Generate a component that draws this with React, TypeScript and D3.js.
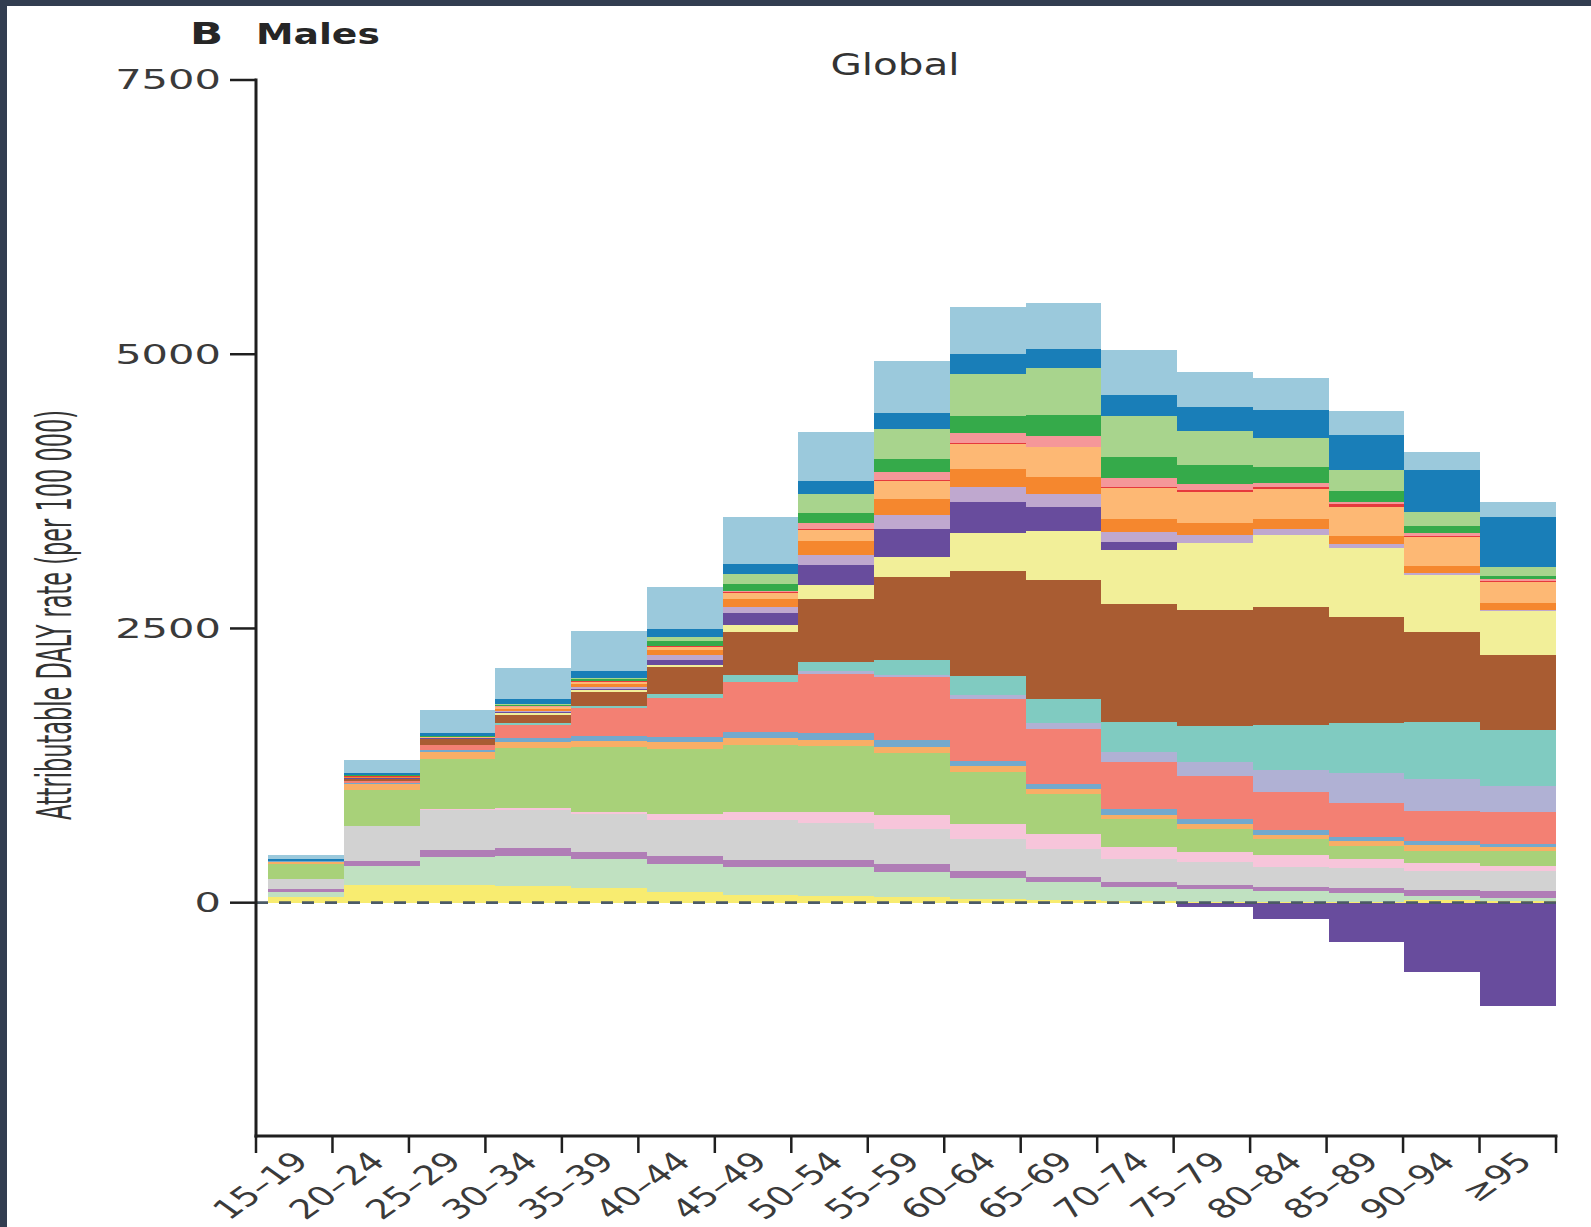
import React, { useEffect, useRef } from 'react';
import * as d3 from 'd3';

// age groups (x categories)
const ageGroups = [
  '15–19', '20–24', '25–29', '30–34', '35–39', '40–44', '45–49', '50–54', '55–59',
  '60–64', '65–69', '70–74', '75–79', '80–84', '85–89', '90–94', '≥95',
];

const yTicks = [0, 2500, 5000, 7500];

// attributable DALY rate per 100 000, one array per risk layer (bottom -> top)
const yellow = [52, 158, 158, 155, 134, 94, 73, 64, 52, 34, 23, 14, 10, 9, 9, 21, 12];
const mint = [42, 173, 255, 267, 264, 262, 252, 258, 228, 191, 168, 131, 113, 98, 77, 43, 31];
const mauve = [31, 52, 64, 77, 64, 73, 67, 64, 73, 67, 46, 42, 39, 39, 46, 48, 60];
const grey = [94, 313, 371, 343, 349, 328, 365, 341, 322, 292, 255, 207, 212, 182, 188, 180, 189];
const pink = [0, 3, 8, 22, 15, 55, 70, 100, 121, 134, 130, 116, 91, 107, 79, 70, 46];
const green = [137, 328, 456, 547, 592, 592, 613, 604, 569, 474, 365, 249, 204, 143, 121, 112, 130];
const lightOrange = [18, 52, 61, 51, 57, 57, 61, 55, 55, 51, 52, 39, 46, 39, 46, 55, 40];
const steelBlue = [5, 14, 15, 40, 46, 49, 51, 61, 60, 52, 39, 52, 46, 46, 31, 30, 30];
const salmon = [0, 14, 46, 115, 252, 355, 456, 540, 578, 562, 501, 435, 397, 349, 310, 280, 289];
const lavender = [0, 0, 0, 3, 3, 3, 3, 21, 21, 33, 61, 91, 122, 198, 273, 289, 240];
const teal = [0, 5, 3, 22, 21, 30, 64, 82, 137, 180, 221, 270, 334, 410, 461, 516, 504];
const brown = [0, 15, 55, 69, 121, 252, 392, 583, 750, 950, 1084, 1073, 1054, 1078, 966, 824, 683];
const paleYellow = [0, 5, 3, 14, 18, 21, 61, 121, 186, 350, 440, 495, 613, 653, 623, 516, 401];
const darkPurple = [0, 5, 3, 14, 15, 46, 116, 189, 255, 283, 219, 73, -40, -150, -355, -635, -940];
const lightPurple = [0, 3, 2, 9, 15, 39, 51, 91, 124, 137, 122, 91, 70, 52, 39, 22, 15];
const orange = [0, 5, 4, 14, 25, 46, 70, 124, 152, 167, 155, 122, 107, 91, 73, 67, 61];
const peach = [0, 5, 5, 18, 25, 31, 55, 104, 158, 225, 270, 283, 288, 276, 267, 262, 194];
const red = [0, 2, 1, 4, 3, 3, 9, 2, 15, 5, 5, 3, 15, 21, 22, 5, 9];
const rose = [0, 3, 2, 5, 6, 3, 12, 55, 67, 94, 95, 82, 55, 31, 24, 30, 18];
const darkGreen = [0, 5, 6, 9, 15, 46, 60, 91, 125, 158, 194, 191, 173, 151, 98, 61, 30];
const paleGreen = [0, 3, 3, 9, 12, 40, 91, 173, 271, 385, 426, 374, 313, 259, 191, 128, 82];
const blue = [15, 18, 25, 46, 61, 73, 100, 124, 146, 177, 176, 197, 219, 258, 319, 388, 456];
const lightBlue = [40, 120, 215, 290, 367, 379, 420, 447, 475, 434, 416, 407, 319, 289, 219, 159, 131];

const layers = [
  { key: 'yellow', values: yellow, color: '#f8ec70' },
  { key: 'mint', values: mint, color: '#c0e1c1' },
  { key: 'mauve', values: mauve, color: '#b07db6' },
  { key: 'grey', values: grey, color: '#d2d2d2' },
  { key: 'pink', values: pink, color: '#f7c5da' },
  { key: 'green', values: green, color: '#a8d179' },
  { key: 'lightOrange', values: lightOrange, color: '#f8ae66' },
  { key: 'steelBlue', values: steelBlue, color: '#73a9cd' },
  { key: 'salmon', values: salmon, color: '#f38073' },
  { key: 'lavender', values: lavender, color: '#b0b1d4' },
  { key: 'teal', values: teal, color: '#80cbc1' },
  { key: 'brown', values: brown, color: '#a95c32' },
  { key: 'paleYellow', values: paleYellow, color: '#f2ef99' },
  { key: 'darkPurple', values: darkPurple, color: '#684c9d' },
  { key: 'lightPurple', values: lightPurple, color: '#bfa8cf' },
  { key: 'orange', values: orange, color: '#f5872e' },
  { key: 'peach', values: peach, color: '#fdb874' },
  { key: 'red', values: red, color: '#e6393c' },
  { key: 'rose', values: rose, color: '#f59799' },
  { key: 'darkGreen', values: darkGreen, color: '#35aa4a' },
  { key: 'paleGreen', values: paleGreen, color: '#a8d48d' },
  { key: 'blue', values: blue, color: '#197eb8' },
  { key: 'lightBlue', values: lightBlue, color: '#9bc9dc' },
];

const W = 1591;
const H = 1227;
const FONT = '"DejaVu Sans", sans-serif';

function drawChart(el: SVGSVGElement) {
  const svg = d3.select(el);
  svg.selectAll('*').remove();

  // dark frame at top/left as in the scanned figure
  svg.append('rect').attr('width', W).attr('height', H).attr('fill', '#323d50');
  svg.append('rect').attr('x', 7).attr('y', 6).attr('width', W - 7).attr('height', H - 6).attr('fill', '#fff');

  const left = 256;
  const right = 1556;
  const top = 80;
  const bottom = 1136;

  const y = d3.scaleLinear().domain([-2127, 7500]).range([bottom, top]);
  const tickX = d3.scaleLinear().domain([0, ageGroups.length]).range([left, right]);
  const x = d3.scaleBand<string>().domain(ageGroups).range([268, right]).padding(0);

  const table = ageGroups.map((age, i) => {
    const row: any = { age };
    layers.forEach((l) => { row[l.key] = l.values[i]; });
    return row;
  });

  const stacked = d3.stack()
    .keys(layers.map((l) => l.key))
    .offset(d3.stackOffsetDiverging)(table);

  const g = svg.append('g');
  stacked.forEach((s, si) => {
    g.selectAll(null)
      .data(s)
      .enter().append('rect')
        .attr('x', (d: any) => x(d.data.age) as number)
        .attr('width', x.bandwidth())
        .attr('y', (d) => y(Math.max(d[0], d[1])))
        .attr('height', (d) => Math.abs(y(d[0]) - y(d[1])))
        .attr('fill', layers[si].color)
        .attr('shape-rendering', 'crispEdges');
  });

  // dashed zero line
  svg.append('line')
    .attr('x1', left).attr('x2', right)
    .attr('y1', y(0)).attr('y2', y(0))
    .attr('stroke', '#4b5a66')
    .attr('stroke-width', 2.8)
    .attr('stroke-dasharray', '12 11');

  const axisColor = '#1f1f1f';

  // y axis
  svg.append('line')
    .attr('x1', left).attr('x2', left)
    .attr('y1', top - 1.5).attr('y2', bottom + 1.5)
    .attr('stroke', axisColor).attr('stroke-width', 3);

  yTicks.forEach((t) => {
    svg.append('line')
      .attr('x1', left - 26).attr('x2', left)
      .attr('y1', y(t)).attr('y2', y(t))
      .attr('stroke', axisColor).attr('stroke-width', 2.5);
    svg.append('text')
      .attr('transform', `translate(${left - 35},${y(t)}) scale(1.6,1)`)
      .attr('dy', '0.36em')
      .attr('text-anchor', 'end')
      .attr('font-family', FONT)
      .attr('font-size', 26)
      .attr('fill', '#3a3a3a')
      .text(t);
  });

  // x axis
  svg.append('line')
    .attr('x1', left - 1.5).attr('x2', right + 1.5)
    .attr('y1', bottom).attr('y2', bottom)
    .attr('stroke', axisColor).attr('stroke-width', 3);

  d3.range(ageGroups.length + 1).forEach((i) => {
    svg.append('line')
      .attr('x1', tickX(i)).attr('x2', tickX(i))
      .attr('y1', bottom).attr('y2', bottom + 17)
      .attr('stroke', axisColor).attr('stroke-width', 2.5);
  });

  ageGroups.forEach((age, i) => {
    const cx = (tickX(i) + tickX(i + 1)) / 2 + 16;
    svg.append('text')
      .attr('transform', `translate(${cx},${bottom + 27}) scale(1.4,1) rotate(-45)`)
      .attr('text-anchor', 'end')
      .attr('font-family', FONT)
      .attr('font-size', 27)
      .attr('fill', '#3a3a3a')
      .text(age);
  });

  // y axis title
  svg.append('text')
    .attr('transform', `translate(71,615) rotate(-90) scale(1,1.4)`)
    .attr('text-anchor', 'middle')
    .attr('font-family', '"Liberation Sans Narrow", "DejaVu Sans Condensed", "Liberation Sans", sans-serif')
    .attr('font-size', 34)
    .attr('textLength', 410)
    .attr('lengthAdjust', 'spacingAndGlyphs')
    .attr('fill', '#333')
    .text('Attributable DALY rate (per 100 000)');

  // panel titles
  svg.append('text')
    .attr('transform', 'translate(190,44) scale(1.45,1)')
    .attr('font-family', FONT)
    .attr('font-weight', 'bold')
    .attr('font-size', 30)
    .attr('fill', '#262626')
    .text('B');
  svg.append('text')
    .attr('transform', 'translate(256,44) scale(1.3,1)')
    .attr('font-family', FONT)
    .attr('font-weight', 'bold')
    .attr('font-size', 29)
    .attr('fill', '#262626')
    .text('Males');
  svg.append('text')
    .attr('transform', 'translate(895,75) scale(1.35,1)')
    .attr('text-anchor', 'middle')
    .attr('font-family', FONT)
    .attr('font-size', 30)
    .attr('fill', '#333')
    .text('Global');
}

export default function App() {
  const ref = useRef<SVGSVGElement>(null);

  useEffect(() => {
    if (ref.current) drawChart(ref.current);
  }, []);

  return (
    <svg
      ref={ref}
      width={W}
      height={H}
      style={{ position: 'absolute', left: 0, top: 0, display: 'block' }}
    />
  );
}
